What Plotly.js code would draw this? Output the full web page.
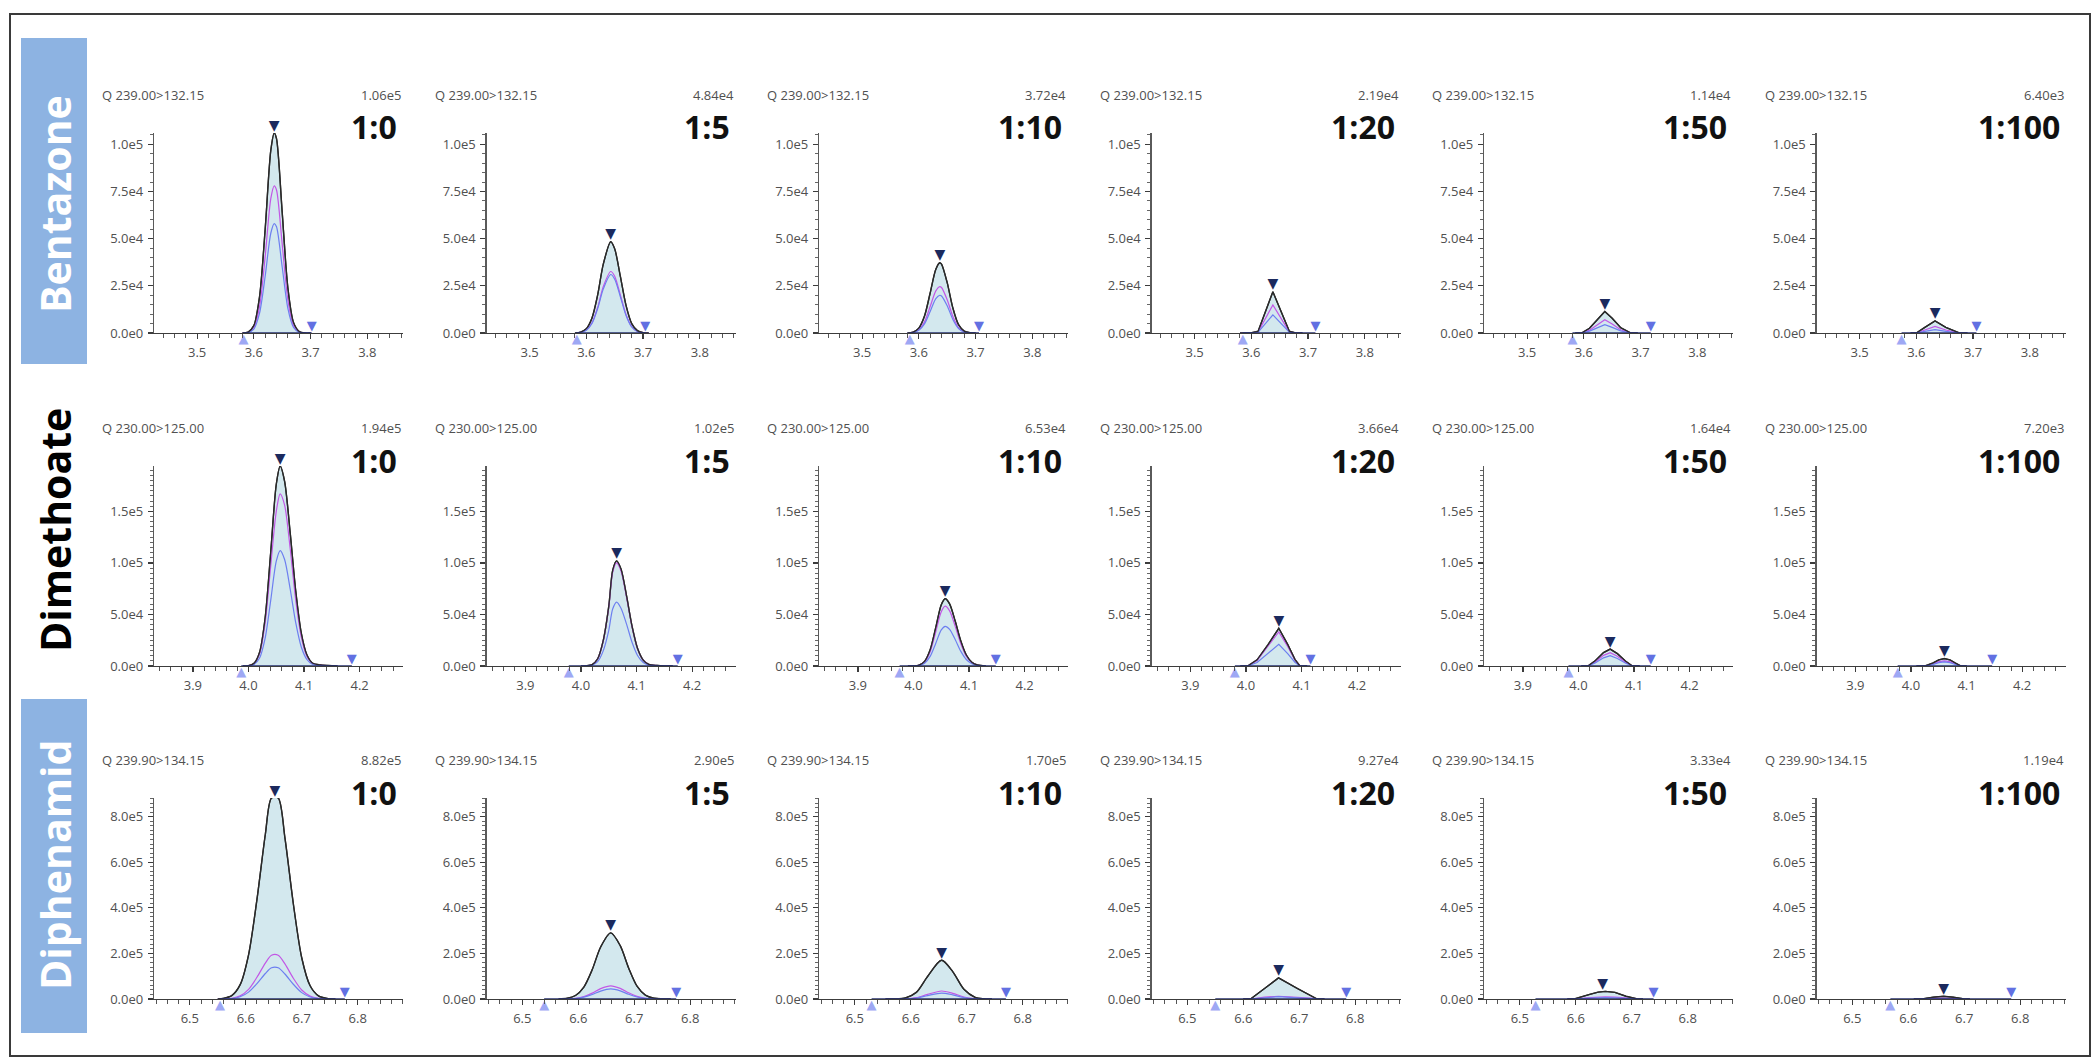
<!DOCTYPE html>
<html><head><meta charset="utf-8">
<script src="https://cdn.plot.ly/plotly-3.0.1.min.js"></script>
<style>html,body{margin:0;padding:0;background:#fff;}#chart{width:2098px;height:1059px;}</style>
</head><body><div id="chart"></div>
<script>
// ---------------- DATA ----------------
const compounds = ["Bentazone", "Dimethoate", "Diphenamid"];
const transitions = ["Q 239.00>132.15", "Q 230.00>125.00", "Q 239.90>134.15"];
const ratios = ["1:0", "1:5", "1:10", "1:20", "1:50", "1:100"];
const bentazoneMaxLabels = ["1.06e5", "4.84e4", "3.72e4", "2.19e4", "1.14e4", "6.40e3"];
const dimethoateMaxLabels = ["1.94e5", "1.02e5", "6.53e4", "3.66e4", "1.64e4", "7.20e3"];
const diphenamidMaxLabels = ["8.82e5", "2.90e5", "1.70e5", "9.27e4", "3.33e4", "1.19e4"];
const yRangeMax = [1.06e5, 1.94e5, 8.82e5];
const xRanges = [[3.424, 3.863], [3.83, 4.278], [6.436, 6.881]];
const yTickVals = [[0, 2.5e4, 5e4, 7.5e4, 1e5], [0, 5e4, 1e5, 1.5e5], [0, 2e5, 4e5, 6e5, 8e5]];
const yTickText = [["0.0e0", "2.5e4", "5.0e4", "7.5e4", "1.0e5"], ["0.0e0", "5.0e4", "1.0e5", "1.5e5"], ["0.0e0", "2.0e5", "4.0e5", "6.0e5", "8.0e5"]];
const yMinorStep = [5e3, 5e3, 2e4];
const xTickVals = [[3.5, 3.6, 3.7, 3.8], [3.9, 4.0, 4.1, 4.2], [6.5, 6.6, 6.7, 6.8]];
const xTickText = [["3.5", "3.6", "3.7", "3.8"], ["3.9", "4.0", "4.1", "4.2"], ["6.5", "6.6", "6.7", "6.8"]];

// Bentazone (retention time, min / intensity, counts)
const bentazoneRT = [
  [3.58,3.59,3.60,3.61,3.62,3.63,3.636,3.64,3.65,3.66,3.67,3.68,3.69,3.70],
  [3.58,3.59,3.60,3.61,3.62,3.63,3.643,3.65,3.66,3.67,3.68,3.69,3.70,3.71],
  [3.58,3.59,3.60,3.61,3.62,3.63,3.637,3.64,3.65,3.66,3.67,3.68,3.69,3.70],
  [3.58,3.599,3.612,3.638,3.667,3.678,3.69],
  [3.585,3.596,3.61,3.625,3.637,3.65,3.665,3.683,3.695],
  [3.59,3.60,3.615,3.633,3.652,3.676,3.69]
];
const bentazoneQuant = [
  [0,500,3900,19000,55000,97000,106000,103000,64000,24000,5500,760,0,0],
  [0,470,2300,8000,20200,36600,48400,44600,30000,14600,5000,1260,230,0],
  [65,500,2600,9000,21200,33800,37200,36500,26700,13300,4400,1000,150,0],
  [0,0,900,21900,900,0,0],
  [0,0,2500,7500,11400,7800,2800,0,0],
  [0,0,3000,6400,3000,0,0]
];
const bentazoneQualA = [
  [0,370,2900,14000,40500,71400,78000,75800,47100,17700,4000,560,0,0],
  [0,320,1550,5400,13600,24700,32600,30100,20200,9800,3400,850,160,0],
  [40,330,1700,5900,14000,22300,24600,24100,17600,8800,2900,660,100,0],
  [0,0,600,14900,600,0,0],
  [0,0,1500,4600,7000,4800,1700,0,0],
  [0,0,1600,3500,1600,0,0]
];
const bentazoneQualB = [
  [0,270,2100,10400,30100,53000,58000,56300,35000,13100,3000,420,0,0],
  [0,300,1470,5100,12900,23400,31000,28500,19200,9300,3200,810,150,0],
  [35,270,1400,4800,11400,18200,20000,19600,14400,7200,2400,540,80,0],
  [0,0,400,9600,400,0,0],
  [0,0,1000,2900,4400,3000,1100,0,0],
  [0,0,900,1800,900,0,0]
];
const bentazoneApexRT = [3.636, 3.643, 3.637, 3.638, 3.637, 3.633];
const bentazoneStartRT = [3.582, 3.583, 3.584, 3.585, 3.580, 3.574];
const bentazoneEndRT = [3.702, 3.704, 3.706, 3.713, 3.718, 3.706];

// Dimethoate
const dimethoateRT = [
  [3.99,4.00,4.01,4.02,4.03,4.04,4.05,4.057,4.065,4.075,4.085,4.095,4.105,4.115,4.13,4.15,4.16],
  [4.00,4.01,4.02,4.03,4.04,4.05,4.057,4.064,4.072,4.082,4.092,4.102,4.112,4.122,4.137,4.155,4.165],
  [3.99,4.00,4.01,4.02,4.03,4.04,4.05,4.057,4.065,4.075,4.085,4.095,4.105,4.115,4.13],
  [3.99,4.003,4.02,4.04,4.059,4.075,4.088,4.097,4.11],
  [4.005,4.017,4.03,4.045,4.057,4.07,4.085,4.097,4.11],
  [4.01,4.025,4.04,4.05,4.06,4.07,4.08,4.09,4.10]
];
const dimethoateQuant = [
  [0,340,2600,13400,46800,110400,176300,194000,179100,129400,72800,31900,10900,2900,1000,300,0],
  [0,180,1370,7000,24600,58000,92700,102000,94100,68000,38300,16700,5700,1500,500,150,0],
  [0,120,870,4500,15700,37200,59400,65300,60300,43600,24500,10700,3700,1000,0],
  [0,0,6000,21000,36600,21000,6500,0,0],
  [0,0,5000,13000,16400,12000,4500,0,0],
  [0,0,3000,6000,7200,6000,2800,0,0]
];
const dimethoateQualA = [
  [0,300,2300,12000,42000,97000,150000,167000,156000,114000,64000,28000,9500,2500,800,200,0],
  [0,170,1300,6800,24000,56800,90800,100000,92200,66600,37500,16400,5600,1500,500,150,0],
  [0,100,770,4000,13900,33000,52700,58000,53500,38700,21800,9500,3300,870,0],
  [0,0,5400,19000,33000,19000,5900,0,0],
  [0,0,4000,10300,13000,9500,3600,0,0],
  [0,0,2000,4200,5000,4200,1900,0,0]
];
const dimethoateQualB = [
  [0,200,1500,7700,27000,63700,101700,112000,103300,74700,42000,18400,6300,1700,500,150,0],
  [0,110,810,4200,14700,34600,55300,62000,56100,40600,22800,10000,3400,900,300,90,0],
  [0,70,510,2650,9300,21900,35000,38500,35500,25700,14400,6300,2200,580,0],
  [0,0,3400,12000,21000,12000,3700,0,0],
  [0,0,3000,7900,10000,7300,2700,0,0],
  [0,0,1600,3300,4000,3300,1500,0,0]
];
const dimethoateApexRT = [4.057, 4.064, 4.057, 4.059, 4.057, 4.060];
const dimethoateStartRT = [3.987, 3.978, 3.975, 3.980, 3.982, 3.976];
const dimethoateEndRT = [4.186, 4.174, 4.148, 4.116, 4.130, 4.146];

// Diphenamid
const diphenamidRT = [
  [6.55,6.56,6.575,6.59,6.605,6.62,6.635,6.646,6.658,6.67,6.685,6.70,6.715,6.73,6.745,6.76],
  [6.565,6.58,6.595,6.61,6.625,6.64,6.658,6.675,6.69,6.705,6.72,6.735,6.75,6.765],
  [6.555,6.57,6.59,6.61,6.63,6.655,6.675,6.695,6.715,6.73,6.745],
  [6.60,6.613,6.638,6.663,6.697,6.732,6.745],
  [6.585,6.597,6.625,6.64,6.653,6.67,6.69,6.71,6.72],
  [6.61,6.625,6.645,6.663,6.68,6.70,6.71]
];
const diphenamidQuant = [
  [0,2600,15000,63000,194000,437000,723000,882000,882000,707000,418000,181000,58000,13600,2400,0],
  [490,3200,15400,52500,129300,228200,290000,234000,136000,56300,16800,3500,550,0],
  [0,340,4300,29200,98600,170000,120200,42500,7500,1300,0],
  [0,0,46000,92700,46000,0,0],
  [0,0,20000,30000,33300,29000,12000,0,0],
  [0,0,8000,11900,8000,0,0]
];
const diphenamidQualA = [
  [0,570,3300,13700,42300,95300,157600,192000,192000,154000,91000,39500,12600,3000,500,0],
  [100,640,3100,10500,25900,45600,58000,46800,27200,11300,3400,700,110,0],
  [0,70,880,6000,20300,35000,24800,8800,1500,270,0],
  [0,0,8000,12000,7000,0,0],
  [0,0,6000,8500,9000,8000,3500,0,0],
  [0,0,2500,3500,2500,0,0]
];
const diphenamidQualB = [
  [0,400,2300,9800,30100,67700,112000,137000,137000,109600,64800,28000,9000,2100,370,0],
  [75,490,2300,8000,19600,34700,44000,35500,20600,8600,2600,530,80,0],
  [0,50,660,4500,15100,26000,18400,6500,1150,200,0],
  [0,0,5000,10000,5000,0,0],
  [0,0,4000,6000,6500,5500,2500,0,0],
  [0,0,1800,2600,1800,0,0]
];
const diphenamidApexRT = [6.652, 6.658, 6.655, 6.663, 6.648, 6.663];
const diphenamidStartRT = [6.554, 6.539, 6.530, 6.550, 6.528, 6.568];
const diphenamidEndRT = [6.777, 6.775, 6.770, 6.784, 6.739, 6.784];

// ---------------- BUILD ----------------
const rowsData = [
  {rt: bentazoneRT, q: bentazoneQuant, a: bentazoneQualA, b: bentazoneQualB, apex: bentazoneApexRT, st: bentazoneStartRT, en: bentazoneEndRT, maxL: bentazoneMaxLabels},
  {rt: dimethoateRT, q: dimethoateQuant, a: dimethoateQualA, b: dimethoateQualB, apex: dimethoateApexRT, st: dimethoateStartRT, en: dimethoateEndRT, maxL: dimethoateMaxLabels},
  {rt: diphenamidRT, q: diphenamidQuant, a: diphenamidQualA, b: diphenamidQualB, apex: diphenamidApexRT, st: diphenamidStartRT, en: diphenamidEndRT, maxL: diphenamidMaxLabels}
];

const W = 2098, H = 1059;
const colLeftPx = c => 154 + 332.5 * c;
const plotWpx = 249;
const rowTopPx = [133, 466, 798];
const rowBotPx = [333, 666, 999];
const fx = p => p / W;
const fy = p => 1 - p / H;

const smallFont = {family: "'Open Sans', 'DejaVu Sans', sans-serif", size: 13, color: '#505050'};
const traces = [];
const layout = {
  width: W, height: H, margin: {l: 0, r: 0, t: 0, b: 0},
  paper_bgcolor: '#ffffff', plot_bgcolor: 'rgba(0,0,0,0)',
  showlegend: false, annotations: [], shapes: []
};

for (let r = 0; r < 3; r++) {
  const d = rowsData[r];
  for (let c = 0; c < 6; c++) {
    const n = r * 6 + c + 1;
    const xs = n === 1 ? 'x' : 'x' + n;
    const ys = n === 1 ? 'y' : 'y' + n;
    const xa = n === 1 ? 'xaxis' : 'xaxis' + n;
    const ya = n === 1 ? 'yaxis' : 'yaxis' + n;
    const shape = c < 3 ? 'spline' : 'linear';

    layout[xa] = {
      domain: [fx(colLeftPx(c)), fx(colLeftPx(c) + plotWpx)],
      anchor: ys, range: xRanges[r], showgrid: false, zeroline: false,
      showline: true, linecolor: '#3c3c3c', linewidth: 1.3,
      ticks: 'outside', ticklen: 5, tickwidth: 1.2, tickcolor: '#3c3c3c',
      tickmode: 'array', tickvals: xTickVals[r], ticktext: xTickText[r],
      tickfont: smallFont, ticklabelstandoff: 2,
      minor: {tickmode: 'linear', tick0: 0, dtick: 0.02, ticks: 'outside', ticklen: 4, tickwidth: 1, tickcolor: '#555'},
      fixedrange: true
    };
    layout[ya] = {
      domain: [fy(rowBotPx[r]), fy(rowTopPx[r])],
      anchor: xs, range: [0, yRangeMax[r]], showgrid: false, zeroline: false,
      showline: true, linecolor: '#5a5a5a', linewidth: 1.2,
      ticks: 'outside', ticklen: 5, tickwidth: 1.2, tickcolor: '#3c3c3c',
      tickmode: 'array', tickvals: yTickVals[r], ticktext: yTickText[r],
      tickfont: smallFont, ticklabelstandoff: 2,
      minor: {tickmode: 'linear', tick0: 0, dtick: yMinorStep[r], ticks: 'outside', ticklen: 3, tickwidth: 1, tickcolor: '#666'},
      fixedrange: true
    };

    // quant trace with fill
    traces.push({x: d.rt[c], y: d.q[c], xaxis: xs, yaxis: ys, type: 'scatter', mode: 'lines',
      line: {color: '#2a2a2a', width: 1.4, shape: shape, smoothing: 0.8},
      fill: 'tozeroy', fillcolor: '#d3e8ee', hoverinfo: 'skip'});
    // qualifier ions
    traces.push({x: d.rt[c], y: d.a[c], xaxis: xs, yaxis: ys, type: 'scatter', mode: 'lines',
      line: {color: '#c257e6', width: 1.2, shape: shape, smoothing: 0.8}, hoverinfo: 'skip'});
    traces.push({x: d.rt[c], y: d.b[c], xaxis: xs, yaxis: ys, type: 'scatter', mode: 'lines',
      line: {color: '#6d7ff0', width: 1.2, shape: shape, smoothing: 0.8}, hoverinfo: 'skip'});
    // quant line on top
    traces.push({x: d.rt[c], y: d.q[c], xaxis: xs, yaxis: ys, type: 'scatter', mode: 'lines',
      line: {color: '#2a2a2a', width: 1.3, shape: shape, smoothing: 0.8}, hoverinfo: 'skip'});
    // integration baseline
    traces.push({x: [d.st[c], d.en[c]], y: [0, 0], xaxis: xs, yaxis: ys, type: 'scatter', mode: 'lines',
      line: {color: '#27306e', width: 1.6}, hoverinfo: 'skip', cliponaxis: false});
    // apex marker
    const apexY = Math.max(...d.q[c]);
    traces.push({x: [d.apex[c]], y: [apexY], xaxis: xs, yaxis: ys, type: 'scatter', mode: 'text',
      text: ['▼'], textposition: 'top center', cliponaxis: false,
      textfont: {family: 'DejaVu Sans', size: 14, color: '#1b2a5e'}, hoverinfo: 'skip'});
    // start marker
    traces.push({x: [d.st[c]], y: [0], xaxis: xs, yaxis: ys, type: 'scatter', mode: 'text',
      text: ['▲'], textposition: 'bottom center', cliponaxis: false,
      textfont: {family: 'DejaVu Sans', size: 13, color: '#9ea8f4'}, hoverinfo: 'skip'});
    // end marker
    traces.push({x: [d.en[c]], y: [0], xaxis: xs, yaxis: ys, type: 'scatter', mode: 'text',
      text: ['▼'], textposition: 'top center', cliponaxis: false,
      textfont: {family: 'DejaVu Sans', size: 13, color: '#6270e2'}, hoverinfo: 'skip'});

    const xdom = (n === 1 ? 'x' : 'x' + n) + ' domain';
    const ydom = (n === 1 ? 'y' : 'y' + n) + ' domain';
    layout.annotations.push({xref: xdom, yref: ydom, x: 0, y: 1, xanchor: 'left', yanchor: 'middle',
      xshift: -54, yshift: 38, text: transitions[r], showarrow: false, font: smallFont});
    layout.annotations.push({xref: xdom, yref: ydom, x: 1, y: 1, xanchor: 'right', yanchor: 'middle',
      xshift: 0, yshift: 38, text: d.maxL[c], showarrow: false, font: smallFont});
    layout.annotations.push({xref: xdom, yref: ydom, x: 1, y: 1, xanchor: 'right', yanchor: 'middle',
      xshift: -4, yshift: 6, text: ratios[c], showarrow: false,
      font: {family: "'Open Sans', sans-serif", size: 32, weight: 700, color: '#111111'}});
  }
}

// Row labels
const labelBoxes = [[38, 364], null, [699, 1033]];
const labelCenters = [204, 530, 865];
for (let r = 0; r < 3; r++) {
  if (labelBoxes[r]) {
    layout.shapes.push({type: 'rect', xref: 'paper', yref: 'paper',
      x0: fx(21), x1: fx(87), y0: fy(labelBoxes[r][1]), y1: fy(labelBoxes[r][0]),
      fillcolor: '#8db3e2', line: {width: 0}, layer: 'below'});
  }
  layout.annotations.push({xref: 'paper', yref: 'paper', x: fx(55), y: fy(labelCenters[r]),
    xanchor: 'center', yanchor: 'middle', textangle: -90, text: compounds[r], showarrow: false,
    font: {family: "'Open Sans', sans-serif", size: 41, weight: 700, color: labelBoxes[r] ? '#ffffff' : '#000000'}});
}

// outer frame
layout.shapes.push({type: 'rect', xref: 'paper', yref: 'paper', x0: fx(10), x1: fx(2090), y0: fy(1056), y1: fy(14),
  line: {color: '#3a3a3a', width: 2}, fillcolor: 'rgba(0,0,0,0)'});

Plotly.newPlot('chart', traces, layout, {staticPlot: true, displayModeBar: false});
</script>
</body></html>
